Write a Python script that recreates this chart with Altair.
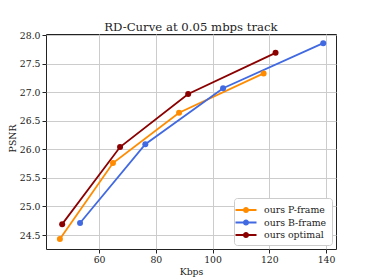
import altair as alt
import pandas as pd

series_names = ["ours P-frame", "ours B-frame", "ours optimal"]
colors = ["#ff8c00", "#4169e1", "#8b0000"]

p_kbps = [46.2, 64.9, 88.2, 118.0]
p_psnr = [24.43, 25.76, 26.64, 27.33]
b_kbps = [53.3, 76.3, 103.7, 139.0]
b_psnr = [24.71, 26.09, 27.07, 27.86]
o_kbps = [47.0, 67.4, 91.4, 122.2]
o_psnr = [24.69, 26.04, 26.97, 27.69]

x_ticks = [60, 80, 100, 120, 140]
y_ticks = [24.5, 25.0, 25.5, 26.0, 26.5, 27.0, 27.5, 28.0]

rows = []
for name, xs, ys in [(series_names[0], p_kbps, p_psnr),
                     (series_names[1], b_kbps, b_psnr),
                     (series_names[2], o_kbps, o_psnr)]:
    for i, (x, y) in enumerate(zip(xs, ys)):
        rows.append({"series": name, "kbps": x, "psnr": y, "order": i})
df = pd.DataFrame(rows)

FONT = "DejaVu Serif"
sym_path = ("M-1.5,-0.14L1.5,-0.14L1.5,0.14L-1.5,0.14Z "
            "M-0.43,0A0.43,0.43 0 1,1 0.43,0A0.43,0.43 0 1,1 -0.43,0Z")

xscale = alt.Scale(domain=[41.3, 143.5], nice=False, zero=False)
yscale = alt.Scale(domain=[24.255, 28.02], nice=False, zero=False)
cscale = alt.Scale(domain=series_names, range=colors)

legend = alt.Legend(
    title=None, orient="bottom-right", offset=4, symbolType=sym_path,
    symbolSize=196, symbolStrokeWidth=0, labelFont=FONT, labelFontSize=9.4,
    labelColor="#222222", fillColor="white", strokeColor="#cccccc",
    cornerRadius=3, padding=5, rowPadding=0.5, labelOffset=11,
)

base = alt.Chart(df).encode(
    x=alt.X("kbps:Q", scale=xscale,
            axis=alt.Axis(title="Kbps", values=x_ticks, format="d")),
    y=alt.Y("psnr:Q", scale=yscale,
            axis=alt.Axis(title="PSNR", values=y_ticks, format=".1f",
                          titleX=-34, titleY=104, titleAlign="center",
                          titleBaseline="middle", titleAngle=270)),
    color=alt.Color("series:N", scale=cscale, legend=legend, sort=series_names),
    order="order:Q",
)

lines = base.mark_line(strokeWidth=1.8)
points = base.mark_circle(size=36, opacity=1)

chart = alt.layer(lines, points).properties(
    width=290, height=215,
    title=alt.Title("RD-Curve at 0.05 mbps track", font=FONT, fontSize=11.7,
                    fontWeight="normal", color="#222222", offset=-3),
    autosize=alt.AutoSizeParams(type="none"),
    padding={"left": 38, "top": 26, "right": 30, "bottom": 31},
).configure_view(
    stroke="#222222", strokeWidth=1
).configure_axis(
    labelFont=FONT, titleFont=FONT, labelFontSize=9.3, titleFontSize=9.3,
    titleFontWeight="normal", labelColor="#222222", titleColor="#222222",
    grid=True, gridColor="#cccccc", gridWidth=1, domain=False,
    tickColor="#222222", tickSize=4, labelPadding=2,
).configure_axisX(titlePadding=3)

chart.save("out.html", embed_options={"renderer": "svg", "actions": False})
